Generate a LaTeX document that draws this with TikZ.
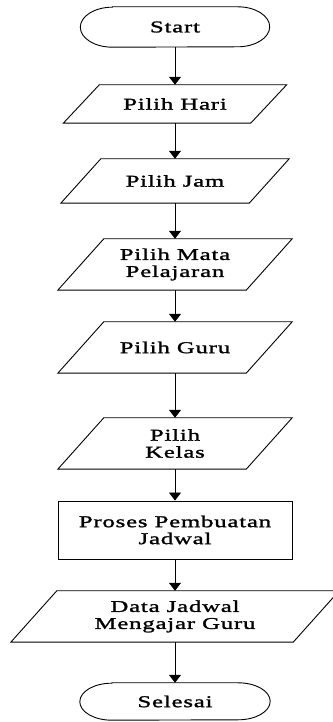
\documentclass[tikz,border=0pt]{standalone}
\usepackage{fontspec}
\usetikzlibrary{arrows.meta}
\newfontfamily\boxfont{Liberation Serif}[FakeStretch=1.5, FakeBold=1.5, LetterSpace=5]

% outline of an input/output parallelogram around a plain node
\newcommand\iooutline[2]{%
  \draw[line] ([xshift=#2/2]#1.north west) -- ([xshift=#2/2]#1.north east)
    -- ([xshift=-#2/2]#1.south east) -- ([xshift=-#2/2]#1.south west) -- cycle;}
% outline of a terminal with elliptical ends
\newcommand\termoutline[3]{%
  \draw[line] ([xshift=#2]#1.north west) -- ([xshift=-#2]#1.north east)
    arc[start angle=90, end angle=-90, x radius=#2, y radius=#3]
    -- ([xshift=#2]#1.south west)
    arc[start angle=270, end angle=90, x radius=#2, y radius=#3] -- cycle;}

\tikzset{
  lbl/.style={font=\boxfont\fontsize{16.5}{17}\selectfont,
    align=center, inner sep=0pt, text=black},
  line/.style={draw=black, line width=0.9pt},
  flow/.style={line, -{Triangle[width=12pt,length=8pt]}},
  procbox/.style={lbl, line, minimum width=234pt, minimum height=58pt},
}

\begin{document}
\begin{tikzpicture}[x=1pt,y=1pt]
  \useasboundingbox (0,0) rectangle (332,722);

  \node[lbl, minimum width=189pt, minimum height=40pt] (start) at (175,695) {Start};
  \termoutline{start}{32}{20}

  \node[lbl, minimum width=187pt, minimum height=38pt] (hari) at (175,618) {Pilih Hari};
  \iooutline{hari}{36}

  \node[lbl, minimum width=188pt, minimum height=44pt] (jam) at (175,541) {Pilih Jam};
  \iooutline{jam}{40}

  \node[lbl, minimum width=188pt, minimum height=51pt] (mapel) at (175,457.5) {Pilih Mata\\Pelajaran};
  \iooutline{mapel}{46}

  \node[lbl, minimum width=188pt, minimum height=51pt] (guru) at (175,374.5) {Pilih Guru};
  \iooutline{guru}{46}

  \node[lbl, minimum width=188pt, minimum height=51pt] (kelas) at (175,278.5) {Pilih\\Kelas};
  \iooutline{kelas}{46}

  \node[procbox] (proses) at (175,192) {Proses Pembuatan\\Jadwal};

  \node[lbl, minimum width=282pt, minimum height=51pt] (data) at (175,105.5) {Data Jadwal\\Mengajar Guru};
  \iooutline{data}{46}

  \node[lbl, minimum width=190pt, minimum height=37pt] (selesai) at (175,20.5) {Selesai};
  \termoutline{selesai}{32}{18.5}

  \draw[flow] (start) -- (hari);
  \draw[flow] (hari) -- (jam);
  \draw[flow] (jam) -- (mapel);
  \draw[flow] (mapel) -- (guru);
  \draw[flow] (guru) -- (kelas);
  \draw[flow] (kelas) -- (proses);
  \draw[flow] (proses) -- (data);
  \draw[flow] (data) -- (selesai);
\end{tikzpicture}
\end{document}
